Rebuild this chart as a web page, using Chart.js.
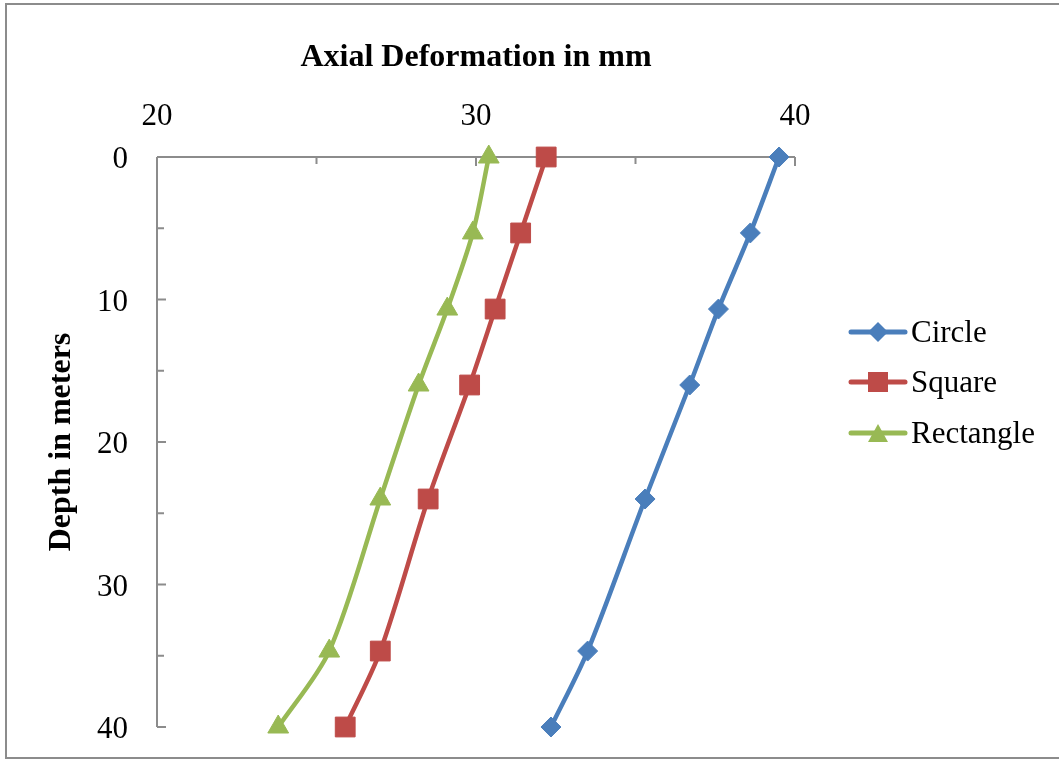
<!DOCTYPE html>
<html>
<head>
<meta charset="utf-8">
<script src="https://cdn.jsdelivr.net/npm/chart.js@4/dist/chart.umd.min.js"></script>
<style>
html,body{margin:0;padding:0;background:#fff;}
#wrap{position:relative;width:1059px;height:759px;overflow:hidden;}
#frame{position:absolute;left:5px;top:3px;width:1070px;height:756px;border:2px solid #8c8c8c;box-sizing:border-box;}
#c{position:absolute;left:0;top:0;}
.leg{position:absolute;left:848px;height:40px;display:flex;align-items:center;font-family:"Liberation Serif","Times New Roman",serif;font-size:31px;color:#000;white-space:nowrap;}
.leg svg{display:block;margin-right:3px;}
</style>
</head>
<body>
<div id="wrap">
  <div id="frame"></div>
  <canvas id="c" width="1059" height="759"></canvas>
  <div id="legend"></div>
</div>
<script>
// ---- Data ----
const depths = [0, 5.33, 10.67, 16, 24, 34.67, 40];
const circleDef = [39.5, 38.6, 37.6, 36.7, 35.3, 33.5, 32.35];
const squareDef = [32.2, 31.4, 30.6, 29.8, 28.5, 27.0, 25.9];
const rectangleDef = [30.4, 29.9, 29.1, 28.2, 27.0, 25.4, 23.8];
const seriesNames = ["Circle", "Square", "Rectangle"];
const xTickValues = [20, 30, 40];
const yTickValues = [0, 10, 20, 30, 40];

const colors = ["#4A7EBB", "#BE4B48", "#98B954"];
const styles = ["rectRot", "rect", "triangle"];
const radii = [10, 14, 12];
const seriesValues = [circleDef, squareDef, rectangleDef];

const toPts = vals => vals.map((v, i) => ({x: v, y: depths[i]}));

const datasets = seriesNames.map((name, i) => ({
  label: name,
  data: toPts(seriesValues[i]),
  borderColor: colors[i],
  backgroundColor: colors[i],
  borderWidth: 4.5,
  pointStyle: styles[i],
  pointRadius: radii[i],
  pointHoverRadius: radii[i],
  pointBorderWidth: 1,
  pointBackgroundColor: colors[i],
  pointBorderColor: colors[i],
  tension: 0.3,
  clip: false
}));

const AXIS_COLOR = "#8c8c8c";
const axisDeco = {
  id: "axisDeco",
  beforeDatasetsDraw(chart) {
    const {ctx, scales: {x, y}} = chart;
    const x0 = x.getPixelForValue(x.min), x1 = x.getPixelForValue(x.max);
    const y0 = y.getPixelForValue(y.min), y1 = y.getPixelForValue(y.max);
    ctx.save();
    ctx.strokeStyle = AXIS_COLOR;
    ctx.lineWidth = 2;
    ctx.beginPath();
    ctx.moveTo(x0, y0); ctx.lineTo(x1, y0);
    ctx.moveTo(x0, y0); ctx.lineTo(x0, y1);
    for (let v = x.min; v <= x.max + 1e-9; v += 5) {
      const p = x.getPixelForValue(v);
      const len = (v % 10 === 0) ? 9 : 7;
      ctx.moveTo(p, y0); ctx.lineTo(p, y0 + len);
    }
    for (let v = y.min; v <= y.max + 1e-9; v += 5) {
      const p = y.getPixelForValue(v);
      const len = (v % 10 === 0) ? 9 : 7;
      ctx.moveTo(x0, p); ctx.lineTo(x0 + len, p);
    }
    ctx.stroke();
    ctx.restore();
  }
};

const tickFont = {family: "'Liberation Serif', 'Times New Roman', serif", size: 31};
const titleFont = {family: "'Liberation Serif', 'Times New Roman', serif", size: 32, weight: "bold"};

new Chart(document.getElementById("c"), {
  type: "line",
  data: {datasets},
  options: {
    responsive: false,
    animation: false,
    events: [],
    layout: {padding: {left: 0, top: 0, right: 264, bottom: 32}},
    plugins: {legend: {display: false}, tooltip: {enabled: false}},
    scales: {
      x: {
        type: "linear",
        position: "top",
        min: 20, max: 40,
        afterBuildTicks: s => { s.ticks = xTickValues.map(v => ({value: v})); },
        afterFit: s => { s.height = 157; s.paddingLeft = 0; s.paddingRight = 0; },
        ticks: {font: tickFont, color: "#000", padding: 22, maxRotation: 0},
        grid: {display: false, drawTicks: false},
        border: {display: false},
        title: {display: true, text: "Axial Deformation in mm", font: titleFont, color: "#000", padding: {top: 39, bottom: 0}}
      },
      y: {
        type: "linear",
        reverse: true,
        min: 0, max: 40,
        afterBuildTicks: s => { s.ticks = yTickValues.map(v => ({value: v})); },
        afterFit: s => { s.width = 157; s.paddingTop = 0; s.paddingBottom = 0; },
        ticks: {font: tickFont, color: "#000", padding: 29, labelOffset: 3},
        grid: {display: false, drawTicks: false},
        border: {display: false},
        title: {display: true, text: "Depth in meters", font: titleFont, color: "#000", padding: {top: 43, bottom: 0}}
      }
    }
  },
  plugins: [axisDeco]
});

// ---- Legend (HTML) ----
const legendTops = [312, 362, 413];
const legend = document.getElementById("legend");
seriesNames.forEach((name, i) => {
  const row = document.createElement("div");
  row.className = "leg";
  row.style.top = legendTops[i] + "px";
  let marker;
  if (styles[i] === "rectRot") marker = `<polygon points="30,10 40,20 30,30 20,20" fill="${colors[i]}"/>`;
  else if (styles[i] === "rect") marker = `<rect x="20" y="10" width="20" height="20" fill="${colors[i]}"/>`;
  else marker = `<polygon points="30,11 40,29 20,29" fill="${colors[i]}"/>`;
  row.innerHTML = `<svg width="60" height="40" viewBox="0 0 60 40"><line x1="3" y1="20" x2="57" y2="20" stroke="${colors[i]}" stroke-width="5" stroke-linecap="round"/>${marker}</svg><span>${name}</span>`;
  legend.appendChild(row);
});
</script>
</body>
</html>
